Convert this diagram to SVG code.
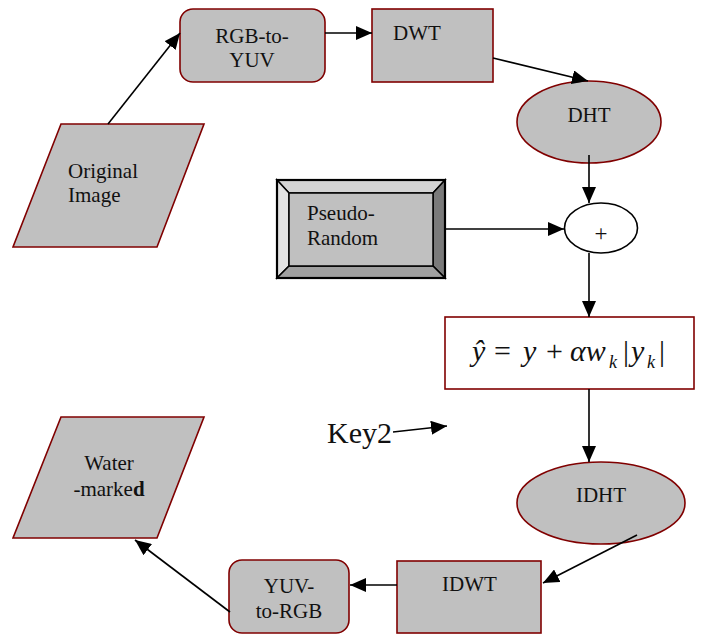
<svg xmlns="http://www.w3.org/2000/svg" width="702" height="634" viewBox="0 0 702 634">
<style>
text{font-family:"Liberation Serif",serif}
.node{fill:#c0c0c0;stroke:#800000;stroke-width:1.6}
.lbl{font-size:21px;fill:#111}
.mid{text-anchor:middle}
.math{font-size:30px;fill:#111}
.it{font-style:italic}
.sub{font-size:18px;font-style:italic;fill:#111}
.conn line{stroke:#000;stroke-width:1.6;marker-end:url(#ah)}
.bev{stroke:#000;stroke-width:1.5;stroke-linejoin:miter}
</style>
<defs>
<marker id="ah" markerUnits="userSpaceOnUse" markerWidth="16" markerHeight="14" viewBox="0 0 16 14" refX="16" refY="7" orient="auto">
<path d="M0,0 L16,7 L0,14 z" fill="#000"/>
</marker>
</defs>
<rect width="702" height="634" fill="#fff"/>
<g id="original-image">
<polygon class="node" points="61,124 204,124 157,247 13,247"/>
<text class="lbl" x="68" y="178">Original</text>
<text class="lbl" x="68" y="202">Image</text>
</g>
<g id="rgb-to-yuv">
<rect class="node" x="180" y="9" width="145" height="73" rx="13" ry="13"/>
<text class="lbl mid" x="252" y="43">RGB-to-</text>
<text class="lbl mid" x="252" y="67">YUV</text>
</g>
<g id="dwt">
<rect class="node" x="372" y="9" width="121" height="73"/>
<text class="lbl" x="393" y="40">DWT</text>
</g>
<g id="dht">
<ellipse class="node" cx="589" cy="122" rx="72" ry="41"/>
<text class="lbl mid" x="589" y="122">DHT</text>
</g>
<g id="pseudo-random">
<rect x="277" y="180" width="168" height="98" fill="#c0c0c0"/>
<polygon class="bev" points="277,180 445,180 433,193 289,193" fill="#d4d4d4"/>
<polygon class="bev" points="277,180 289,193 289,266 277,278" fill="#e2e2e2"/>
<polygon class="bev" points="445,180 445,278 433,266 433,193" fill="#7a7a7a"/>
<polygon class="bev" points="277,278 289,266 433,266 445,278" fill="#a0a0a0"/>
<rect x="289" y="193" width="144" height="73" fill="#c0c0c0" stroke="#000" stroke-width="1.5"/>
<rect x="277" y="180" width="168" height="98" fill="none" stroke="#000" stroke-width="2.2"/>
<text class="lbl" x="307" y="220">Pseudo-</text>
<text class="lbl" x="307" y="245">Random</text>
</g>
<g id="plus">
<ellipse cx="601" cy="228" rx="36.5" ry="25" fill="#fff" stroke="#000" stroke-width="1.6"/>
<text class="lbl mid" x="601" y="241" style="font-size:23px">+</text>
</g>
<g id="formula">
<rect x="445" y="317" width="249" height="72" fill="#fff" stroke="#800000" stroke-width="1.6"/>
<text class="math" x="472" y="361"><tspan class="it">ŷ</tspan><tspan x="494">=</tspan><tspan x="523" class="it">y</tspan><tspan x="546">+</tspan><tspan x="570" class="it">αw</tspan><tspan x="609" dy="7" class="sub">k</tspan><tspan x="623" dy="-7">|</tspan><tspan x="631" class="it">y</tspan><tspan x="647" dy="7" class="sub">k</tspan><tspan x="659" dy="-7">|</tspan></text>
</g>
<g id="idht">
<ellipse class="node" cx="601" cy="503" rx="84" ry="41"/>
<text class="lbl mid" x="601" y="502">IDHT</text>
</g>
<g id="idwt">
<rect class="node" x="397" y="561" width="144" height="72"/>
<text class="lbl" x="442" y="591">IDWT</text>
</g>
<g id="yuv-to-rgb">
<rect class="node" x="229" y="560" width="120" height="73" rx="13" ry="13"/>
<text class="lbl mid" x="289" y="593">YUV-</text>
<text class="lbl mid" x="289" y="618">to-RGB</text>
</g>
<g id="watermarked">
<polygon class="node" points="61,417 204,417 157,538 13,538"/>
<text class="lbl mid" x="109" y="470">Water</text>
<text class="lbl mid" x="109" y="496">-marke<tspan font-weight="bold">d</tspan></text>
</g>
<g id="key2">
<text class="math" x="327" y="443">Key2</text>
</g>
<g class="conn" id="connectors">
<line x1="108" y1="124" x2="180" y2="33"/>
<line x1="325" y1="33" x2="372" y2="33"/>
<line x1="493" y1="58" x2="588" y2="81"/>
<line x1="589" y1="155" x2="589" y2="203"/>
<line x1="445" y1="229" x2="564" y2="229"/>
<line x1="589" y1="253" x2="589" y2="317"/>
<line x1="589" y1="389" x2="589" y2="462"/>
<line x1="637" y1="535" x2="543" y2="583"/>
<line x1="397" y1="585" x2="350" y2="585"/>
<line x1="230" y1="612" x2="135" y2="540"/>
<line x1="393" y1="432" x2="447" y2="426"/>
</g>
</svg>
